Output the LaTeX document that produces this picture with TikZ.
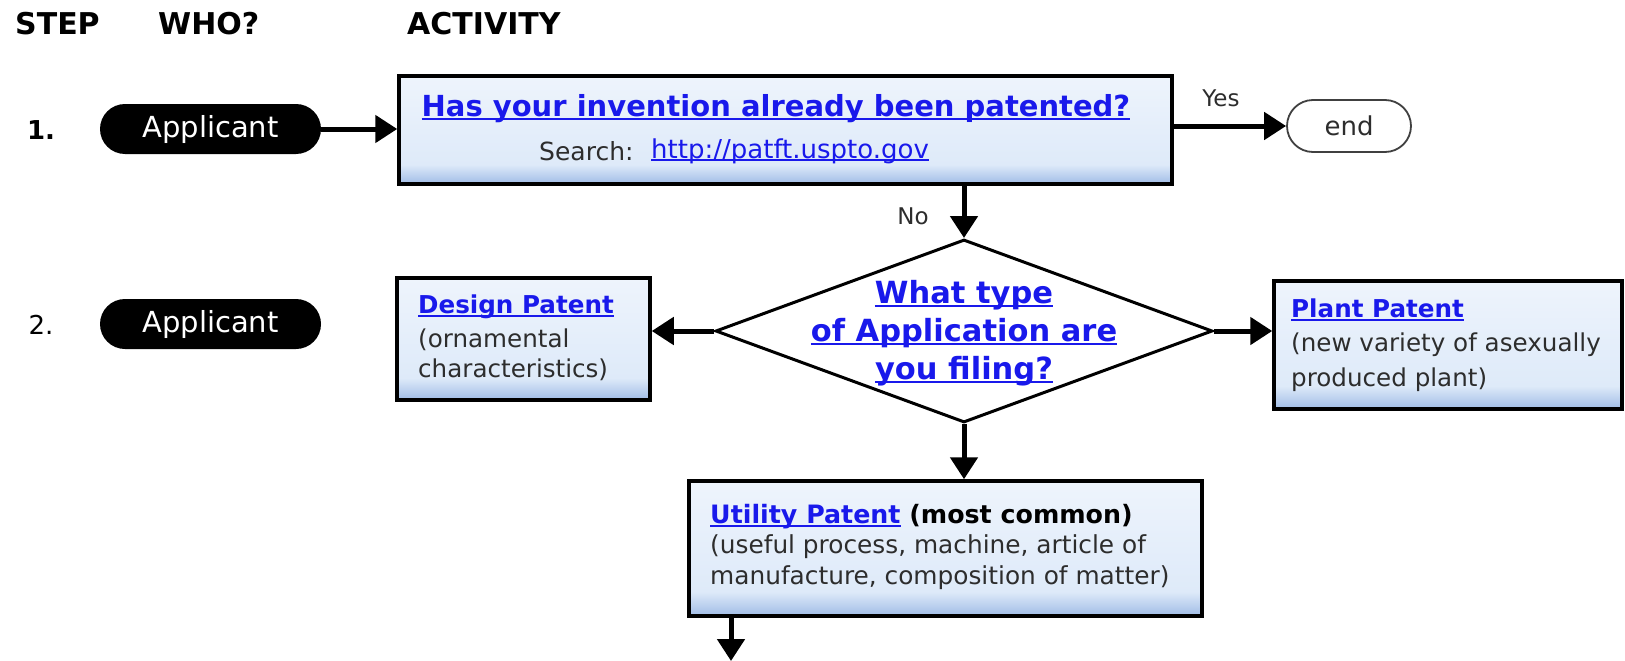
\documentclass[tikz,border=0pt]{standalone}
\usepackage{fontspec}
\setmainfont{DejaVu Sans}
\usetikzlibrary{arrows.meta,shapes.geometric,shadows}

\definecolor{link}{RGB}{25,25,235}
\definecolor{ink}{RGB}{45,45,45}
\definecolor{boxtop}{RGB}{238,244,252}
\definecolor{boxmid}{RGB}{222,234,249}
\definecolor{boxlow}{RGB}{160,188,230}

% pale blue panel that darkens towards the bottom edge
\pgfdeclareverticalshading{panelshade}{100bp}{color(0bp)=(boxlow); color(25bp)=(boxlow); color(34bp)=(boxmid); color(75bp)=(boxtop); color(100bp)=(boxtop)}

% underlined link text
\newcommand{\lnk}[1]{\textcolor{link}{\setbox0\hbox{#1}\rlap{\rule[-0.12em]{\wd0}{0.075em}}\box0}}
\newcommand{\fsz}[2]{\fontsize{#1}{#2}\selectfont}

\tikzset{
  txt/.style={inner sep=0pt, text=ink},
  head/.style={txt, text=black, font=\fsz{30}{34}\bfseries},
  pill/.style={rounded corners=25pt, fill=black, minimum width=221pt, minimum height=50pt,
    text=white, font=\fsz{29}{32}, inner sep=0pt},
  endpill/.style={rounded corners=26pt, draw=black!75, line width=1.8pt, fill=white,
    minimum width=124pt, minimum height=52pt, font=\fsz{26}{30}, text=ink, inner sep=0pt},
  panel/.style={draw=black, line width=3.5pt, shading=panelshade, inner sep=0pt,
    drop shadow={opacity=0.25, shadow xshift=2pt, shadow yshift=-2pt}},
  choice/.style={diamond, draw=black, line width=3pt, fill=white, inner sep=0pt,
    minimum width=497pt, minimum height=183pt},
  flow/.style={line width=5pt, -{Triangle[length=22pt,width=27pt]}},
  small/.style={txt, font=\fsz{23}{26}},
  body/.style={txt, font=\fsz{24.6}{31}},
  sub/.style={txt, font=\fsz{24.6}{30}\bfseries},
}

\begin{document}
\begin{tikzpicture}[x=1pt,y=-1pt]
\useasboundingbox (0,0) rectangle (1625,661);

% column headings
\node[head, anchor=west] (hstep) at (15,24) {STEP};
\node[head, anchor=west] (hwho) at (158,24) {WHO?};
\node[head, anchor=west] (hact) at (407,24) {ACTIVITY};

% step numbers and actors
\node[txt, text=black, font=\fsz{26}{30}\bfseries] (n1) at (41,130) {1.};
\node[txt, text=black, font=\fsz{26}{30}] (n2) at (41,325) {2.};
\node[pill] (app1) at (210.5,129) {Applicant};
\node[pill] (app2) at (210.5,324) {Applicant};

% step 1: prior patent search
\node[panel, minimum width=773pt, minimum height=108pt] (q1) at (785.5,130) {};
\node[txt, font=\fsz{29}{34}\bfseries] (q1t) at (776,109) {\lnk{Has your invention already been patented?}};
\node[txt, font=\fsz{25}{30}, anchor=west] (srch) at (539,151) {Search:};
\node[txt, font=\fsz{26}{30}, anchor=west] (url) at (651,151) {\lnk{http://patft.uspto.gov}};

\node[endpill] (fin) at (1349,126) {end};
\node[small] (yes) at (1221,98) {Yes};
\node[small] (no) at (913,216) {No};

% step 2: choice of application type
\node[choice] (dia) at (964,331) {};
\node[txt, align=center, font=\fsz{30.5}{38}\bfseries] (diat) at (964,333)
  {\lnk{What type}\\ \lnk{of Application are}\\ \lnk{you filing?}};

\node[panel, minimum width=253pt, minimum height=122pt] (des) at (523.5,339) {};
\node[sub, anchor=west] (desh) at (418,307) {\lnk{Design Patent}};
\node[body, anchor=west] (des1) at (418,340) {(ornamental};
\node[body, anchor=west] (des2) at (418,370) {characteristics)};

\node[panel, minimum width=348pt, minimum height=128pt] (pla) at (1448,345) {};
\node[sub, anchor=west] (plah) at (1291,310) {\lnk{Plant Patent}};
\node[body, anchor=west] (pla1) at (1291,345) {(new variety of asexually};
\node[body, anchor=west] (pla2) at (1291,380) {produced plant)};

\node[panel, minimum width=513pt, minimum height=135pt] (uti) at (945.5,548.5) {};
\node[sub, anchor=west, font=\fsz{25.3}{30}\bfseries] (utih) at (710,517) {\lnk{Utility Patent} \textcolor{black}{(most common)}};
\node[body, anchor=west, font=\fsz{24.8}{31}] (uti1) at (710,547) {(useful process, machine, article of};
\node[body, anchor=west, font=\fsz{24.8}{31}] (uti2) at (710,578) {manufacture, composition of matter)};

\coordinate (next) at (731,661);

% connectors
\draw[flow] (app1.east) -- (q1.west |- app1.east);
\draw[flow] (q1.east |- fin.west) -- (fin.west);
\draw[flow] (q1.south -| dia.north) -- (dia.north);
\draw[flow] (dia.west) -- (des.east |- dia.west);
\draw[flow] (dia.east) -- (pla.west |- dia.east);
\draw[flow] (dia.south) -- (dia.south |- uti.north);
\draw[flow] (uti.south -| next) -- (next);
\end{tikzpicture}
\end{document}
